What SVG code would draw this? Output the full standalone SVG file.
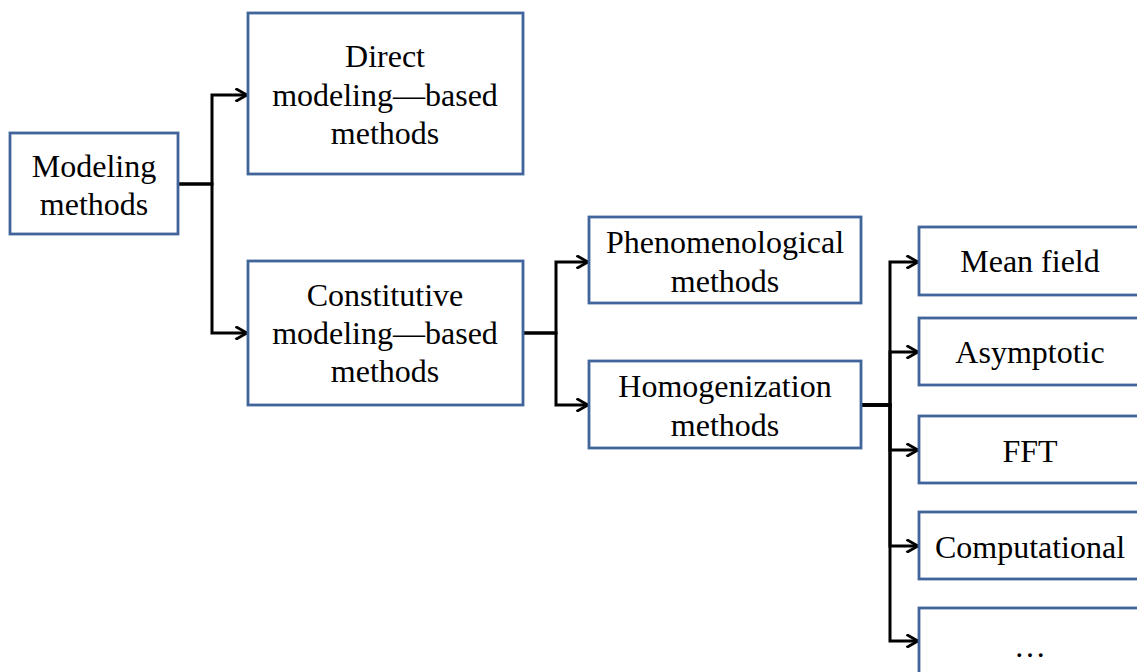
<svg xmlns="http://www.w3.org/2000/svg" width="1137" height="672" viewBox="0 0 1137 672">
<style>
.box{fill:#fff;stroke:#41649A;stroke-width:2.8}
.t{font-family:"Liberation Serif","Times New Roman",serif;font-size:32px;fill:#000;text-anchor:middle}
.c{fill:none;stroke:#000;stroke-width:3;marker-end:url(#ah)}
</style>
<defs>
<marker id="ah" markerUnits="userSpaceOnUse" viewBox="0 0 14 14" refX="13" refY="7" markerWidth="14" markerHeight="14" orient="auto">
<path d="M1.5,0.5 L13,7 L1.5,13.5" fill="none" stroke="#000" stroke-width="2.8"/>
</marker>
</defs>
<rect width="1137" height="672" fill="#fff"/>
<g id="connectors">
<path class="c" d="M178,184 H212 V95 H247"/>
<path class="c" d="M178,184 H212 V333 H247"/>
<path class="c" d="M523,333 H556 V262 H588"/>
<path class="c" d="M523,333 H556 V405 H588"/>
<path class="c" d="M861,405 H890 V262 H918"/>
<path class="c" d="M861,405 H890 V352 H918"/>
<path class="c" d="M861,405 H890 V450 H918"/>
<path class="c" d="M861,405 H890 V546 H918"/>
<path class="c" d="M861,405 H890 V641 H918"/>
</g>
<g id="n-modeling"><rect class="box" x="10" y="133" width="168" height="101"/><text class="t" x="94" y="177">Modeling</text><text class="t" x="94" y="215">methods</text></g>
<g id="n-direct"><rect class="box" x="248" y="13" width="275" height="161"/><text class="t" x="385" y="67">Direct</text><text class="t" x="385" y="106">modeling—based</text><text class="t" x="385" y="144">methods</text></g>
<g id="n-constitutive"><rect class="box" x="248" y="261" width="275" height="144"/><text class="t" x="385" y="306">Constitutive</text><text class="t" x="385" y="344">modeling—based</text><text class="t" x="385" y="382">methods</text></g>
<g id="n-phenom"><rect class="box" x="589" y="217" width="272" height="86"/><text class="t" x="725" y="253">Phenomenological</text><text class="t" x="725" y="292">methods</text></g>
<g id="n-homog"><rect class="box" x="589" y="361" width="272" height="87"/><text class="t" x="725" y="397">Homogenization</text><text class="t" x="725" y="436">methods</text></g>
<g id="n-mean"><rect class="box" x="919" y="227" width="222" height="68"/><text class="t" x="1030" y="272">Mean field</text></g>
<g id="n-asym"><rect class="box" x="919" y="318" width="222" height="67"/><text class="t" x="1030" y="363">Asymptotic</text></g>
<g id="n-fft"><rect class="box" x="919" y="416" width="222" height="67"/><text class="t" x="1030" y="462">FFT</text></g>
<g id="n-comp"><rect class="box" x="919" y="512" width="222" height="67"/><text class="t" x="1030" y="558">Computational</text></g>
<g id="n-etc"><rect class="box" x="919" y="608" width="222" height="80"/><text class="t" x="1030" y="657">…</text></g>
</svg>
